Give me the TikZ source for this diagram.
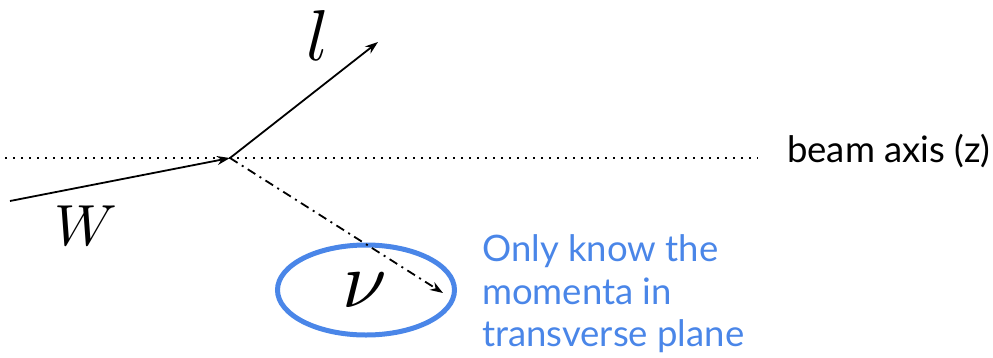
\documentclass[tikz,border=0pt]{standalone}
\usepackage{fontspec}
\setmainfont{Lato}
\usetikzlibrary{arrows.meta,shapes.geometric}
\definecolor{gblue}{RGB}{74,134,232}
\tikzset{
  thinline/.style={line width=1.8pt, black},
  tip/.style={-{Stealth[length=13pt,width=9pt]}},
  lbl/.style={font=\fontsize{36.5}{42}\selectfont, text=gblue, anchor=base west, inner sep=0pt},
}
\begin{document}
\begin{tikzpicture}[x=1pt,y=-1pt]
\useasboundingbox (0,0) rectangle (993,357);
\coordinate (v) at (230,158);
\coordinate (wstart) at (10,201);
\coordinate (lend) at (378,42);
\coordinate (nuend) at (443,293);
\coordinate (bl) at (5,158);
\coordinate (br) at (758,158);
\draw[line width=1.8pt, dash pattern=on 1.8pt off 6.2pt] (bl) -- (br);
\draw[thinline, tip] (wstart) -- (v);
\draw[thinline, tip] (v) -- (lend);
\node[draw=gblue, line width=5pt, ellipse, minimum width=177pt, minimum height=90pt, inner sep=0pt] (ell) at (366,290) {};
\draw[thinline, tip, dash pattern=on 9pt off 5pt on 2pt off 5pt] (v) -- (nuend);
\node[inner sep=0pt, scale=7.2] (l) at (318,35) {$l$};
\node[inner sep=0pt, scale=5.8] (W) at (86,226) {$W$};
\node[inner sep=0pt, scale=8] (nu) at (365,290) {$\nu$};
\node[font=\fontsize{36.5}{42}\selectfont, anchor=base west, inner sep=0pt] (beam) at (787,162) {beam axis (z)};
\node[lbl] (t1) at (482,261) {Only know the};
\node[lbl] (t2) at (482,304) {momenta in};
\node[lbl] (t3) at (482,346) {transverse plane};
\end{tikzpicture}
\end{document}
